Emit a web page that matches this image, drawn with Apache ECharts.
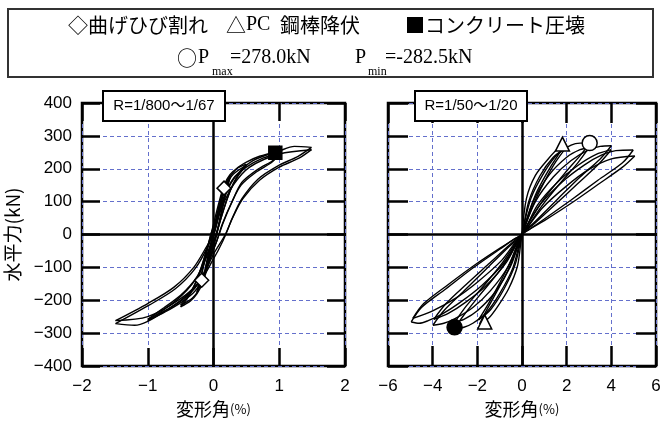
<!DOCTYPE html>
<html><head><meta charset="utf-8">
<script src="https://cdn.jsdelivr.net/npm/echarts@6/dist/echarts.min.js"></script>
<style>html,body{margin:0;padding:0;background:#fff}#c{width:667px;height:425px}</style>
</head><body><div id="c"></div><script>
// ---------- data (drift angle %, horizontal force kN) ----------
const leftXTicks = [-2, -1, 0, 1, 2];
const rightXTicks = [-6, -4, -2, 0, 2, 4, 6];
const yTicks = [-400, -300, -200, -100, 0, 100, 200, 300, 400];

// R = 1/800 .. 1/67
const l800 = [[0,0],[0.06,58],[0.125,108],[0.07,55],[0,-2],[-0.06,-58],[-0.125,-108],[-0.07,-55],[0,2],
  [0.06,58],[0.125,106],[0.07,52],[0,-4],[-0.06,-57],[-0.125,-106],[-0.07,-52],[0,0]];
const l400 = [[0,0],[0.08,75],[0.16,141],[0.25,178],[0.2,140],[0.12,70],[0.04,0],[-0.04,-50],[-0.1,-100],
  [-0.18,-139],[-0.25,-175],[-0.2,-138],[-0.12,-70],[-0.04,0],[0.04,50],[0.12,110],[0.25,172],
  [0.19,125],[0.1,45],[0.03,-15],[-0.08,-90],[-0.25,-170],[-0.19,-125],[-0.1,-45],[-0.02,15]];
const l200 = [[-0.02,15],[0.08,95],[0.16,150],[0.25,182],[0.35,200],[0.5,214],[0.4,190],[0.3,155],[0.2,105],
  [0.1,40],[0.02,-20],[-0.08,-90],[-0.16,-145],[-0.25,-180],[-0.35,-202],[-0.5,-220],[-0.4,-195],
  [-0.3,-160],[-0.2,-110],[-0.1,-45],[0,10],[0.1,85],[0.2,150],[0.3,183],[0.5,210],[0.38,180],
  [0.27,140],[0.17,85],[0.07,20],[-0.02,-35],[-0.12,-110],[-0.22,-165],[-0.32,-193],[-0.5,-215],
  [-0.38,-185],[-0.27,-145],[-0.17,-90],[-0.07,-25],[0.02,25]];
const l100 = [[0.02,25],[0.1,100],[0.2,160],[0.35,200],[0.5,220],[0.7,238],[0.98,252],
  [0.93,229],[0.68,199],[0.43,158],[0.28,98],[0.15,37],[0.05,-20],
  [-0.05,-70],[-0.15,-130],[-0.28,-172],[-0.48,-205],[-0.73,-235],[-1.0,-262],
  [-0.73,-225],[-0.48,-185],[-0.23,-124],[-0.08,-54],[0.02,10],
  [0.15,110],[0.3,170],[0.5,205],[0.75,232],[1.0,248],
  [0.9,222],[0.65,190],[0.42,150],[0.27,95],[0.13,30],[0.04,-25],
  [-0.1,-95],[-0.25,-155],[-0.45,-195],[-0.7,-228],[-1.0,-258],
  [-0.75,-222],[-0.5,-185],[-0.25,-128],[-0.1,-62],[0,0]];
const l67 = [[0,0],[0.1,70],[0.2,130],[0.35,180],[0.6,225],[1.0,254],[1.23,268],[1.49,265],
  [1.28,237],[0.98,209],[0.68,169],[0.43,108],[0.28,47],[0.18,-3],[0.08,-45],
  [-0.03,-85],[-0.13,-120],[-0.28,-158],[-0.48,-197],[-0.73,-232],[-1.0,-264],[-1.2,-276],[-1.49,-271],
  [-0.98,-215],[-0.58,-165],[-0.28,-104],[-0.08,-33],[0.03,27],[0.12,80],
  [0.3,150],[0.55,205],[1.0,245],[1.49,258],
  [1.3,232],[1.0,205],[0.7,165],[0.45,110],[0.3,55],[0.18,0],
  [0,-60],[-0.2,-140],[-0.5,-195],[-1.0,-250],[-1.49,-262],
  [-1.0,-210],[-0.6,-160],[-0.3,-100],[-0.1,-35],[0,0]];

// R = 1/50 .. 1/20
const r50 = [[0,0],[0.2,110],[0.6,180],[1.2,232],[1.6,260],[1.95,272],
  [1.6,240],[1.1,185],[0.6,120],[0.2,45],[0,0],
  [-0.2,-95],[-0.6,-165],[-1.1,-220],[-1.5,-255],[-1.9,-272],
  [-1.6,-232],[-1.1,-170],[-0.6,-105],[-0.2,-38],[0,0],
  [0.3,100],[0.8,178],[1.4,235],[1.95,262],
  [1.5,220],[1.0,160],[0.5,90],[0.15,28],[0,0],
  [-0.3,-90],[-0.8,-165],[-1.4,-228],[-1.95,-260],
  [-1.5,-210],[-1.0,-148],[-0.5,-80],[-0.15,-22],[0,0]];
const r33 = [[0,0],[0.4,110],[1.0,190],[1.6,245],[2.2,272],[2.6,278],[3.04,278],
  [2.6,240],[1.9,185],[1.0,110],[0.3,35],[0,0],
  [-0.4,-100],[-1.0,-180],[-1.6,-238],[-2.2,-270],[-2.6,-282],[-3.02,-286],
  [-2.6,-245],[-1.9,-185],[-1.0,-110],[-0.3,-35],[0,0],
  [0.5,100],[1.2,180],[2.0,235],[2.6,258],[3.0,264],
  [2.5,218],[1.7,155],[0.9,88],[0.3,28],[0,0],
  [-0.5,-95],[-1.2,-175],[-2.0,-232],[-2.6,-258],[-3.0,-266],
  [-2.5,-218],[-1.7,-155],[-0.9,-88],[-0.3,-28],[0,0]];
const r25 = [[0,0],[0.6,100],[1.4,175],[2.2,225],[3.0,258],[3.5,268],[4.0,270],
  [3.5,230],[2.6,175],[1.6,108],[0.6,40],[0,0],
  [-0.6,-95],[-1.4,-170],[-2.2,-222],[-3.0,-256],[-3.5,-270],[-3.99,-276],
  [-3.5,-232],[-2.6,-172],[-1.6,-105],[-0.6,-38],[0,0],
  [0.7,90],[1.6,160],[2.5,210],[3.3,243],[4.0,258],
  [3.4,212],[2.5,155],[1.5,92],[0.5,30],[0,0],
  [-0.7,-85],[-1.6,-155],[-2.5,-205],[-3.3,-240],[-3.95,-258],
  [-3.4,-210],[-2.5,-152],[-1.5,-90],[-0.5,-28],[0,0]];
const r20 = [[0,0],[0.8,90],[1.8,160],[2.8,212],[3.6,243],[4.2,255],[4.98,257],
  [4.5,218],[3.4,165],[2.2,105],[1.0,47],[0.3,14],[0,0],
  [-0.8,-85],[-1.8,-155],[-2.8,-208],[-3.6,-243],[-4.2,-262],[-4.6,-270],[-4.96,-266],
  [-4.5,-222],[-3.4,-165],[-2.2,-102],[-1.0,-45],[-0.3,-12],[0,0],
  [0.9,80],[2.0,148],[3.0,198],[4.0,230],[5.05,239],
  [4.5,205],[3.4,152],[2.2,95],[1.0,42],[0,0],
  [-0.9,-78],[-2.0,-145],[-3.0,-195],[-4.0,-232],[-4.89,-255],
  [-4.4,-210],[-3.3,-152],[-2.1,-92],[-1.0,-42],[0,0]];

// event markers
const crackPts = [[0.16,141],[-0.18,-139]];      // ◇ 曲げひび割れ
const crushPts = [[0.94,249]];                   // ■ コンクリート圧壊
const yieldPts = [[1.81,275],[-1.67,-266]];      // △ PC鋼棒降伏
const pmaxPts = [[3.03,278.0]];                  // ○ Pmax
const pminPts = [[-3.02,-282.5]];                // ● Pmin

const leftCycles = [l800, l400, l200, l100, l67];
const rightCycles = [r50, r33, r25, r20];

// ---------- build ----------
function branches(path){
  const out=[]; let cur=[path[0]]; let dir=0;
  for(let i=1;i<path.length;i++){
    const dx=path[i][0]-path[i-1][0]; const d=dx>0?1:(dx<0?-1:0);
    if(d!==0 && dir!==0 && d!==dir){ out.push(cur); cur=[path[i-1]]; }
    if(d!==0) dir=d;
    cur.push(path[i]);
  }
  out.push(cur); return out;
}
const minus = v => String(v).replace('-', '\u2212');
const tickFont = {fontFamily:'"Liberation Sans", Arial, sans-serif', fontSize:17, color:'#000'};
const gridColor = '#6470cc';

function xAx(gi, min, max, iv, pos, len){
  const bottom = pos==='bottom';
  return {type:'value', gridIndex:gi, min, max, interval:iv, position:pos,
    axisLine:{show:false, onZero:false},
    axisTick:{show:true, inside:true, length:len, lineStyle:{color:'#000', width:2.5}},
    axisLabel:{show:bottom, margin:12, formatter:minus, ...tickFont},
    splitLine:{show:bottom, lineStyle:{color:gridColor, type:[4,3], width:1}},
    name: bottom ? '変形角{p|(%)}' : '', nameLocation:'middle', nameGap:31,
    nameTextStyle:{fontFamily:'"Noto Sans CJK JP", sans-serif', fontSize:18, color:'#000',
      rich:{p:{fontFamily:'"Noto Sans CJK JP", sans-serif', fontSize:13, color:'#000'}}}
  };
}
function yAx(gi, pos, labels, len){
  const left = pos==='left';
  return {type:'value', gridIndex:gi, min:yTicks[0], max:yTicks[yTicks.length-1], interval:100, position:pos,
    axisLine:{show:false, onZero:false},
    axisTick:{show:true, inside:true, length:len, lineStyle:{color:'#000', width:2.5}},
    axisLabel:{show:labels, margin:10, formatter:minus, ...tickFont},
    splitLine:{show:left, lineStyle:{color:gridColor, type:[4,3], width:1}},
    name: labels ? '水平力(kN)' : '', nameLocation:'middle', nameRotate:90, nameGap:60,
    nameTextStyle:{fontFamily:'"Noto Sans CJK JP", sans-serif', fontSize:19, color:'#000'}
  };
}

const series = [];
function zeroLines(xi, yi){
  series.push({type:'line', xAxisIndex:xi, yAxisIndex:yi, data:[[0,0]], showSymbol:false, symbol:'none',
    lineStyle:{width:0}, z:2, silent:true,
    markLine:{silent:true, symbol:['none','none'], label:{show:false}, animation:false,
      lineStyle:{color:'#000', width:2.5, type:'solid'}, emphasis:{disabled:true},
      data:[{xAxis:0},{yAxis:0}]}});
}
zeroLines(0,0); zeroLines(1,1);
function addCurves(cycles, xi, yi){
  cycles.forEach(p => branches(p).forEach(b => series.push({
    type:'line', xAxisIndex:xi, yAxisIndex:yi, data:b, smooth:0.3,
    symbol:'none', showSymbol:false, lineStyle:{color:'#000', width:1.4}, z:3, silent:true,
    emphasis:{disabled:true}})));
}
addCurves(leftCycles, 0, 0);
addCurves(rightCycles, 1, 1);
function marks(data, xi, yi, symbol, size, fill){
  series.push({type:'scatter', xAxisIndex:xi, yAxisIndex:yi, data, symbol, symbolSize:size, z:5, silent:true,
    itemStyle:{color:fill, borderColor:'#000', borderWidth:1.5, opacity:1}});
}
marks(crackPts, 0, 0, 'diamond', 14, '#fff');
marks(crushPts, 0, 0, 'rect', 13, '#000');
marks(yieldPts, 1, 1, 'triangle', 14, '#fff');
marks(pmaxPts, 1, 1, 'circle', 15, '#fff');
marks(pminPts, 1, 1, 'circle', 15, '#000');

const cjk = '"Noto Sans CJK JP", sans-serif';
const serif = '"Liberation Serif", "Noto Sans CJK JP", serif';
function txt(text, x, y, size, fam, align){
  return {type:'text', x, y, z:101, silent:true,
    style:{text, font: size+'px '+fam, fill:'#000', align:align||'left', verticalAlign:'middle',
      textAlign:align||'left', textVerticalAlign:'middle'}};
}
const graphic = [
  {type:'rect', shape:{x:8,y:9,width:645,height:68}, style:{fill:'#fff', stroke:'#333', lineWidth:2}, z:100, silent:true},
  txt('◇曲げひび割れ', 138, 25, 20, cjk, 'center'),
  txt('△', 226, 25, 20, cjk),
  txt('PC', 246, 25, 20, serif),
  txt('鋼棒降伏', 280, 25, 20, cjk),
  txt('■コンクリート圧壊', 495, 25, 20, cjk, 'center'),
  txt('○', 177, 58, 20, cjk),
  txt('P', 198, 58, 20, serif),
  txt('max', 212, 72, 12, serif),
  txt('=278.0kN', 230, 58, 20, serif),
  txt('P', 355, 58, 20, serif),
  txt('min', 368, 72, 12, serif),
  txt('=-282.5kN', 385, 58, 20, serif),
  {type:'rect', shape:{x:103,y:91,width:122,height:30}, style:{fill:'#fff', stroke:'#000', lineWidth:2}, z:100, silent:true},
  txt('R=1/800～1/67', 164, 106, 15, '"Liberation Sans", "Noto Sans CJK JP", sans-serif', 'center'),
  {type:'rect', shape:{x:415,y:91,width:112,height:30}, style:{fill:'#fff', stroke:'#000', lineWidth:2}, z:100, silent:true},
  txt('R=1/50～1/20', 471, 106, 15, '"Liberation Sans", "Noto Sans CJK JP", sans-serif', 'center')
];

const chart = echarts.init(document.getElementById('c'), null, {renderer:'canvas'});
chart.setOption({
  animation:false,
  backgroundColor:'#fff',
  grid:[
    {left:82, top:103, width:263, height:263, show:true, borderColor:'#000', borderWidth:2.5, containLabel:false},
    {left:388, top:103, width:268, height:263, show:true, borderColor:'#000', borderWidth:2.5, containLabel:false}
  ],
  xAxis:[
    xAx(0, leftXTicks[0], leftXTicks[leftXTicks.length-1], 1, 'bottom', 18),
    xAx(1, rightXTicks[0], rightXTicks[rightXTicks.length-1], 2, 'bottom', 20),
    xAx(0, leftXTicks[0], leftXTicks[leftXTicks.length-1], 1, 'top', 18),
    xAx(1, rightXTicks[0], rightXTicks[rightXTicks.length-1], 2, 'top', 20)
  ],
  yAxis:[
    yAx(0, 'left', true, 18),
    yAx(1, 'left', false, 20),
    yAx(0, 'right', false, 18),
    yAx(1, 'right', false, 20)
  ],
  series,
  graphic
});
</script></body></html>
